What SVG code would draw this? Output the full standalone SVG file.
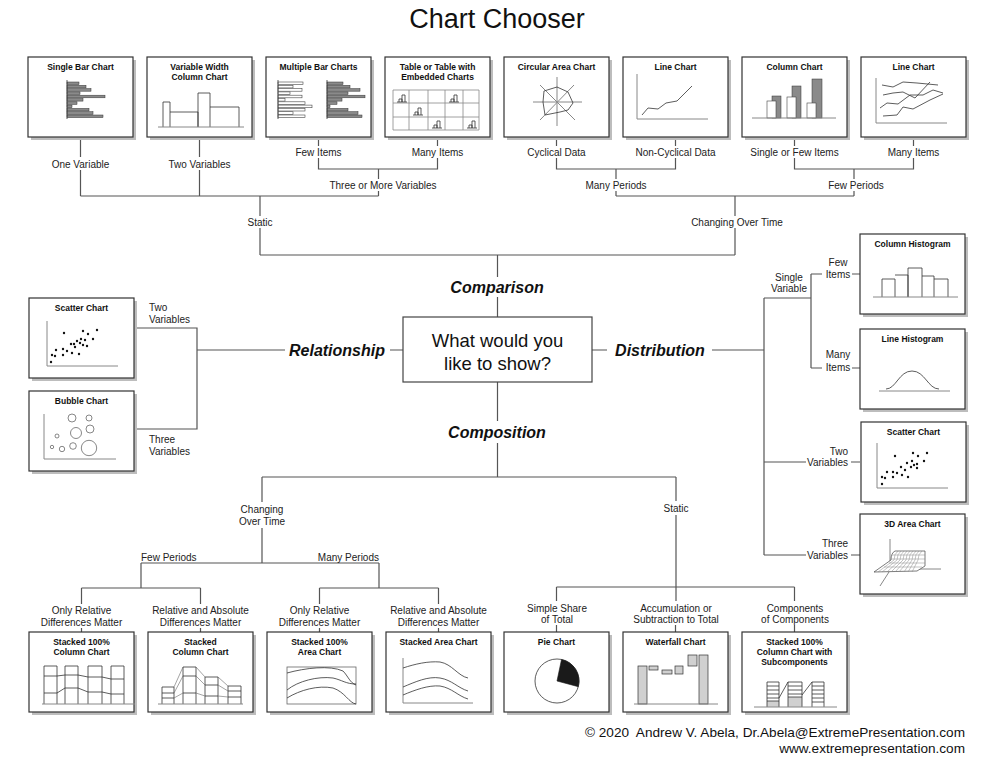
<svg xmlns="http://www.w3.org/2000/svg" width="999" height="762" viewBox="0 0 999 762">
<defs>
<style>
.bg{fill:#fff}
.box{fill:#fff;stroke:#333;stroke-width:1.2}
.sh{fill:#bdbdbd}
.t{font-family:"Liberation Sans",Arial,sans-serif;font-weight:bold;font-size:8.5px;text-anchor:middle;fill:#111}
.lbl{font-family:"Liberation Sans",Arial,sans-serif;font-size:10px;fill:#222;text-anchor:middle}
.lr{text-anchor:end}
.ls{text-anchor:start}
.cat{font-family:"Liberation Sans",Arial,sans-serif;font-weight:bold;font-style:italic;font-size:16px;text-anchor:middle;fill:#111}
.q{font-family:"Liberation Sans",Arial,sans-serif;font-size:18.5px;text-anchor:middle;fill:#111}
.c{stroke:#555;stroke-width:1.2;fill:none}
.ln{stroke:#333;stroke-width:0.8;fill:none}
.ax{stroke:#888;stroke-width:1;fill:none}
.gb{fill:#8a8a8a;stroke:#333;stroke-width:0.5}
.wb{fill:#fff;stroke:#444;stroke-width:0.6}
.lg{fill:#d0d0d0;stroke:#333;stroke-width:0.7}
.dot{fill:#111}
.bub{fill:#fff;stroke:#555;stroke-width:0.7}
.ft{font-family:"Liberation Sans",Arial,sans-serif;font-size:13.6px;text-anchor:end;fill:#111}
</style>
</defs>
<rect class="bg" x="0" y="0" width="999" height="762"/>
<text x="497" y="28" style="font-family:'Liberation Sans',Arial,sans-serif;font-size:27px;text-anchor:middle;fill:#111">Chart Chooser</text>

<!-- connectors -->
<g id="connectors">
<path class="c" d="M80.5 137V157M80.5 170V196M199.5 137V157M199.5 170V196M318.5 137V146M318.5 158V169H437.5V158M437.5 146V137M378.5 169V179M378.5 191V196M80.5 196H378.5M260 196V216M260 228V255"/>
<path class="c" d="M556.5 137V146M556.5 158V169H675.5V158M675.5 146V137M616 169V179M616 191V196M794.5 137V146M794.5 158V169H913.5V158M913.5 146V137M854 169V179M854 191V196M616 196H854M735 196V216M735 228V255"/>
<path class="c" d="M260 255H735M497.5 255V277M497.5 297V317"/>
<path class="c" d="M134 328H197V429H134M197 350H285M390 350H403"/>
<path class="c" d="M592 350H607M712 350H764M764 298V555M764 298H811M811 274V368M811 274H822M852 274H860M811 368H822M852 368H860M764 462H806M851 462H860M764 555H806M851 555H860"/>
<path class="c" d="M497.5 382V421M497.5 443V477M262 477H676M262 477V502M262 528V563M141 563H379M141 563V588M81.5 588H200.5M81.5 588V604M200.5 588V604M81.5 628V632M200.5 628V632M379 563V588M319.5 588H438.5M319.5 588V604M438.5 588V604M319.5 628V632M438.5 628V632"/>
<path class="c" d="M676 477V501M676 515V601M556.5 587H794.5M556.5 587V601M794.5 587V601M556.5 625V632M675.5 625V632M794.5 625V632"/>
</g>

<!-- connector labels -->
<g id="labels">
<text class="lbl" x="80.5" y="167.5">One Variable</text>
<text class="lbl" x="199.5" y="167.5">Two Variables</text>
<text class="lbl" x="318.5" y="155.5">Few Items</text>
<text class="lbl" x="437.5" y="155.5">Many Items</text>
<text class="lbl" x="383" y="188.5">Three or More Variables</text>
<text class="lbl" x="260" y="225.5">Static</text>
<text class="lbl" x="556.5" y="155.5">Cyclical Data</text>
<text class="lbl" x="675.5" y="155.5">Non-Cyclical Data</text>
<text class="lbl" x="794.5" y="155.5">Single or Few Items</text>
<text class="lbl" x="913.5" y="155.5">Many Items</text>
<text class="lbl" x="616" y="188.5">Many Periods</text>
<text class="lbl" x="856" y="188.5">Few Periods</text>
<text class="lbl" x="737" y="225.5">Changing Over Time</text>
<text class="lbl ls" x="149" y="310.5">Two</text>
<text class="lbl ls" x="149" y="322.5">Variables</text>
<text class="lbl ls" x="149" y="442.5">Three</text>
<text class="lbl ls" x="149" y="454.5">Variables</text>
<text class="lbl" x="789" y="280.5">Single</text>
<text class="lbl" x="789" y="291.5">Variable</text>
<text class="lbl" x="838" y="265.5">Few</text>
<text class="lbl" x="838" y="277.5">Items</text>
<text class="lbl" x="838" y="357.5">Many</text>
<text class="lbl" x="838" y="370.5">Items</text>
<text class="lbl lr" x="848" y="454.5">Two</text>
<text class="lbl lr" x="848" y="465.5">Variables</text>
<text class="lbl lr" x="848" y="546.5">Three</text>
<text class="lbl lr" x="848" y="558.5">Variables</text>
<text class="lbl" x="262" y="512.5">Changing</text>
<text class="lbl" x="262" y="524.5">Over Time</text>
<text class="lbl" x="676" y="511.5">Static</text>
<text class="lbl ls" x="141" y="560.5">Few Periods</text>
<text class="lbl lr" x="379" y="560.5">Many Periods</text>
<text class="lbl" x="81.5" y="613.5">Only Relative</text>
<text class="lbl" x="81.5" y="625.5">Differences Matter</text>
<text class="lbl" x="200.5" y="613.5">Relative and Absolute</text>
<text class="lbl" x="200.5" y="625.5">Differences Matter</text>
<text class="lbl" x="319.5" y="613.5">Only Relative</text>
<text class="lbl" x="319.5" y="625.5">Differences Matter</text>
<text class="lbl" x="438.5" y="613.5">Relative and Absolute</text>
<text class="lbl" x="438.5" y="625.5">Differences Matter</text>
<text class="lbl" x="557" y="611.5">Simple Share</text>
<text class="lbl" x="557" y="622.5">of Total</text>
<text class="lbl" x="676" y="611.5">Accumulation or</text>
<text class="lbl" x="676" y="622.5">Subtraction to Total</text>
<text class="lbl" x="795" y="611.5">Components</text>
<text class="lbl" x="795" y="622.5">of Components</text>
</g>

<!-- center -->
<g id="center">
<rect x="403" y="317" width="189" height="65" fill="#fff" stroke="#444" stroke-width="1.2"/>
<text class="q" x="497.5" y="346.5">What would you</text>
<text class="q" x="497.5" y="369.5">like to show?</text>
</g>
<g id="cat-comparison"><text class="cat" x="497" y="292.5">Comparison</text></g>
<g id="cat-relationship"><text class="cat" x="337" y="355.5">Relationship</text></g>
<g id="cat-distribution"><text class="cat" x="660" y="355.5">Distribution</text></g>
<g id="cat-composition"><text class="cat" x="497" y="437.5">Composition</text></g>

<!-- top row -->
<g id="single-bar">
<rect class="sh" x="31" y="60" width="105" height="80"/><rect class="box" x="28" y="57" width="105" height="80"/>
<text class="t" x="80.5" y="69.5">Single Bar Chart</text>
<rect class="gb" x="67" y="82" width="12" height="2.6"/><rect class="gb" x="67" y="85.3" width="19" height="2.6"/><rect class="gb" x="67" y="88.6" width="24" height="2.6"/><rect class="gb" x="67" y="91.9" width="13" height="2.6"/><rect class="gb" x="67" y="95.2" width="38" height="2.6"/><rect class="gb" x="67" y="98.5" width="16" height="2.6"/><rect class="gb" x="67" y="101.8" width="10" height="2.6"/><rect class="gb" x="67" y="105.1" width="5" height="2.6"/><rect class="gb" x="67" y="108.4" width="22" height="2.6"/><rect class="gb" x="67" y="111.7" width="26" height="2.6"/><rect class="gb" x="67" y="115" width="36" height="2.6"/>
<path class="ln" d="M67 80V119"/>
</g>
<g id="variable-width">
<rect class="sh" x="150" y="60" width="105" height="80"/><rect class="box" x="147" y="57" width="105" height="80"/>
<text class="t" x="199.5" y="69.5">Variable Width</text><text class="t" x="199.5" y="79.5">Column Chart</text>
<path class="ln" d="M163 127V102H170V127M170 112H198V127M198 127V93H210V127M210 107H239V127"/>
<path class="ax" d="M158 127H244"/>
</g>
<g id="multiple-bar">
<rect class="sh" x="269" y="60" width="105" height="80"/><rect class="box" x="266" y="57" width="105" height="80"/>
<text class="t" x="318.5" y="69.5">Multiple Bar Charts</text>
<rect class="wb" x="278" y="82" width="25" height="2.6"/><rect class="wb" x="278" y="85.3" width="15" height="2.6"/><rect class="wb" x="278" y="88.6" width="24" height="2.6"/><rect class="wb" x="278" y="91.9" width="12" height="2.6"/><rect class="wb" x="278" y="95.2" width="24" height="2.6"/><rect class="wb" x="278" y="98.5" width="7" height="2.6"/><rect class="wb" x="278" y="101.8" width="27" height="2.6"/><rect class="wb" x="278" y="105.1" width="34" height="2.6"/><rect class="wb" x="278" y="108.4" width="27" height="2.6"/><rect class="wb" x="278" y="111.7" width="15" height="2.6"/><rect class="wb" x="278" y="115" width="27" height="2.6"/>
<path class="ln" d="M278 80V119"/>
<rect class="gb" x="327" y="82" width="16" height="2.6"/><rect class="gb" x="327" y="85.3" width="23" height="2.6"/><rect class="gb" x="327" y="88.6" width="33" height="2.6"/><rect class="gb" x="327" y="91.9" width="21" height="2.6"/><rect class="gb" x="327" y="95.2" width="38" height="2.6"/><rect class="gb" x="327" y="98.5" width="15" height="2.6"/><rect class="gb" x="327" y="101.8" width="10" height="2.6"/><rect class="gb" x="327" y="105.1" width="3" height="2.6"/><rect class="gb" x="327" y="108.4" width="21" height="2.6"/><rect class="gb" x="327" y="111.7" width="31" height="2.6"/><rect class="gb" x="327" y="115" width="35" height="2.6"/>
<path class="ln" d="M327 80V119"/>
</g>
<g id="table">
<rect class="sh" x="388" y="60" width="105" height="80"/><rect class="box" x="385" y="57" width="105" height="80"/>
<text class="t" x="437.5" y="69.5">Table or Table with</text><text class="t" x="437.5" y="79.5">Embedded Charts</text>
<path d="M393 90H479V130H393ZM409 90V130M428 90V130M445 90V130M463 90V130M393 103H479M393 117H479" fill="none" stroke="#888" stroke-width="0.8"/>
<path class="ln" d="M397 102H407M399 102V99H402V102M402 102V95H405V102 M449 102H459M451 102V99H454V102M454 102V95H457V102 M413 115H423M415 115V112H418V115M418 115V108H421V115 M432 128H442M434 128V125H437V128M437 128V121H440V128 M467 128H477M469 128V125H472V128M472 128V121H475V128"/>
</g>
<g id="circular-area">
<rect class="sh" x="507" y="60" width="105" height="80"/><rect class="box" x="504" y="57" width="105" height="80"/>
<text class="t" x="556.5" y="69.5">Circular Area Chart</text>
<path class="ax" d="M533 102H582M557 77V126M540 85L575 120M574 85L540 120"/>
<path class="ln" d="M544 91L557 87L568 92L573 103L568 110L560 112L545 115L543 102Z"/>
</g>
<g id="line-chart-1">
<rect class="sh" x="626" y="60" width="105" height="80"/><rect class="box" x="623" y="57" width="105" height="80"/>
<text class="t" x="675.5" y="69.5">Line Chart</text>
<path class="ax" d="M637 74V119H708"/>
<path class="ln" d="M642 115L648 108L658 109L666 103L677 101L692 86"/>
</g>
<g id="column-chart">
<rect class="sh" x="745" y="60" width="105" height="80"/><rect class="box" x="742" y="57" width="105" height="80"/>
<text class="t" x="794.5" y="69.5">Column Chart</text>
<rect class="gb" x="772" y="96" width="9" height="22"/><rect class="wb" x="767" y="101" width="9" height="17"/>
<rect class="gb" x="792" y="86" width="9" height="32"/><rect class="wb" x="787" y="97" width="9" height="21"/>
<rect class="gb" x="812" y="79" width="10" height="39"/><rect class="wb" x="807" y="103" width="9" height="15"/>
<path class="ax" d="M752 118H836"/>
</g>
<g id="line-chart-2">
<rect class="sh" x="864" y="60" width="105" height="80"/><rect class="box" x="861" y="57" width="105" height="80"/>
<text class="t" x="913.5" y="69.5">Line Chart</text>
<path class="ax" d="M876 78V123H947"/>
<path class="ln" d="M882 85L893 87L903 82L917 83L938 85M883 95L893 93L903 92L915 98L930 82M880 108L887 103L898 104L910 95L923 95L933 90L943 93M883 116L897 115L903 107L913 109L930 100L943 94"/>
</g>

<!-- left -->
<g id="scatter-left">
<rect class="sh" x="32" y="301" width="105" height="80"/><rect class="box" x="29" y="298" width="105" height="80"/>
<text class="t" x="81.5" y="311">Scatter Chart</text>
<path class="ax" d="M47 321V366H118"/>
<g class="dot"><circle cx="64" cy="333" r="1.2"/><circle cx="83" cy="331" r="1.2"/><circle cx="88" cy="334" r="1.2"/><circle cx="97" cy="330" r="1.2"/><circle cx="77" cy="341" r="1.2"/><circle cx="81" cy="339" r="1.2"/><circle cx="85" cy="340" r="1.2"/><circle cx="93" cy="339" r="1.2"/><circle cx="71" cy="344" r="1.2"/><circle cx="74" cy="344" r="1.2"/><circle cx="80" cy="343" r="1.2"/><circle cx="87" cy="346" r="1.2"/><circle cx="75" cy="347" r="1.2"/><circle cx="83" cy="345" r="1.2"/><circle cx="63" cy="349" r="1.2"/><circle cx="67" cy="351" r="1.2"/><circle cx="56" cy="350" r="1.2"/><circle cx="52" cy="355" r="1.2"/><circle cx="55" cy="356" r="1.2"/><circle cx="63" cy="355" r="1.2"/><circle cx="72" cy="353" r="1.2"/><circle cx="79" cy="354" r="1.2"/><circle cx="51" cy="362" r="1.2"/></g>
</g>
<g id="bubble">
<rect class="sh" x="32" y="394" width="105" height="80"/><rect class="box" x="29" y="391" width="105" height="80"/>
<text class="t" x="81.5" y="404">Bubble Chart</text>
<path class="ax" d="M44 414V459H116"/>
<circle class="bub" cx="72" cy="418" r="4"/><circle class="bub" cx="89" cy="418" r="3"/><circle class="bub" cx="76" cy="433" r="5.5"/><circle class="bub" cx="90" cy="429" r="4"/><circle class="bub" cx="57" cy="436" r="2"/><circle class="bub" cx="52" cy="447" r="1.7"/><circle class="bub" cx="62" cy="449" r="2.7"/><circle class="bub" cx="73" cy="446" r="3.3"/><circle class="bub" cx="89" cy="448" r="7.7"/>
</g>

<!-- right -->
<g id="column-histogram">
<rect class="sh" x="863" y="237" width="105" height="80"/><rect class="box" x="860" y="234" width="105" height="80"/>
<text class="t" x="912.5" y="247">Column Histogram</text>
<path class="ln" d="M882 297V279H895V297M895 275H908V297M908 297V268H922V297M922 276H934V297M934 279H948V297"/>
<path class="ax" d="M873 297H958"/>
</g>
<g id="line-histogram">
<rect class="sh" x="863" y="332" width="105" height="80"/><rect class="box" x="860" y="329" width="105" height="80"/>
<text class="t" x="912.5" y="342">Line Histogram</text>
<path class="ax" d="M879 391H950"/>
<path class="ln" d="M886 389C896 389 899 371 912 371C925 371 928 389 939 389"/>
</g>
<g id="scatter-right">
<rect class="sh" x="864" y="425" width="105" height="80"/><rect class="box" x="861" y="422" width="105" height="80"/>
<text class="t" x="913.5" y="435">Scatter Chart</text>
<path class="ax" d="M877 443V488H948"/>
<g class="dot"><circle cx="895" cy="456" r="1.2"/><circle cx="913" cy="453" r="1.2"/><circle cx="918" cy="456" r="1.2"/><circle cx="927" cy="453" r="1.2"/><circle cx="912" cy="461" r="1.2"/><circle cx="907" cy="463" r="1.2"/><circle cx="917" cy="464" r="1.2"/><circle cx="924" cy="461" r="1.2"/><circle cx="901" cy="467" r="1.2"/><circle cx="905" cy="470" r="1.2"/><circle cx="911" cy="467" r="1.2"/><circle cx="914" cy="465" r="1.2"/><circle cx="917" cy="468" r="1.2"/><circle cx="893" cy="472" r="1.2"/><circle cx="897" cy="473" r="1.2"/><circle cx="887" cy="472" r="1.2"/><circle cx="882" cy="477" r="1.2"/><circle cx="885" cy="478" r="1.2"/><circle cx="893" cy="477" r="1.2"/><circle cx="902" cy="475" r="1.2"/><circle cx="908" cy="477" r="1.2"/><circle cx="882" cy="484" r="1.2"/></g>
</g>
<g id="area-3d">
<rect class="sh" x="863" y="517" width="105" height="80"/><rect class="box" x="860" y="514" width="105" height="80"/>
<text class="t" x="912.5" y="527">3D Area Chart</text>
<path class="ax" d="M890 539V567M918 569H941M889 572L880 586"/>
<path d="M874 572L917 571L925 566V551H895Q891 553 891 560Z" fill="#fff" stroke="#444" stroke-width="0.7"/>
<path d="M898 551Q894 554 894 560L878 572M901 551Q897 554 897 560L882 572M904 551Q900 554 900 560L887 572M907 551Q903 554 903 560L891 572M910 551Q906 554 906 560L895 572M913 551Q909 554 909 560L899 572M916 551Q912 554 912 560L904 572M919 551Q915 554 915 560L908 572M922 551Q918 554 918 560L912 572M892 555H925M891 559H925M889 563H925M884 567H922" fill="none" stroke="#888" stroke-width="0.5"/>
</g>

<!-- bottom row -->
<g id="stacked-100-column">
<rect class="sh" x="32" y="635" width="105" height="80"/><rect class="box" x="29" y="632" width="105" height="80"/>
<text class="t" x="81.5" y="645">Stacked 100%</text><text class="t" x="81.5" y="655">Column Chart</text>
<path class="ln" d="M44 704V666H57V704M65 704V666H78V704M88 704V666H102V704M111 704V666H124V704M44 676H57L65 675H78L88 677H102L111 679H124M44 693H57L65 688H78L88 692H102L111 694H124"/>
<path class="ax" d="M42 704H135"/>
</g>
<g id="stacked-column">
<rect class="sh" x="151" y="635" width="105" height="80"/><rect class="box" x="148" y="632" width="105" height="80"/>
<text class="t" x="200.5" y="645">Stacked</text><text class="t" x="200.5" y="655">Column Chart</text>
<path class="ln" d="M162 704V687H174V704M162 693H174M162 698H174M183 704V667H196V704M183 676H196M183 693H196M205 704V677H218V704M205 685H218M205 696H218M228 704V686H241V704M228 691H241M228 697H241"/>
<path d="M174 687L183 667M174 693L183 676M174 698L183 693M196 667L205 677M196 676L205 685M196 693L205 696M218 677L228 686M218 685L228 691M218 696L228 697" fill="none" stroke="#666" stroke-width="0.6"/>
<path class="ax" d="M158 704H243"/>
</g>
<g id="stacked-100-area">
<rect class="sh" x="270" y="635" width="105" height="80"/><rect class="box" x="267" y="632" width="105" height="80"/>
<text class="t" x="319.5" y="645">Stacked 100%</text><text class="t" x="319.5" y="655">Area Chart</text>
<rect x="287" y="667" width="69" height="37" fill="none" stroke="#666" stroke-width="0.8"/>
<path class="ln" d="M287 673C305 668 330 665 343 671C348 676 350 683 356 685M287 690C298 681 318 676 333 678C342 680 346 684 356 684M287 698C300 690 318 685 333 688C345 692 349 703 356 704"/>
</g>
<g id="stacked-area">
<rect class="sh" x="389" y="635" width="105" height="80"/><rect class="box" x="386" y="632" width="105" height="80"/>
<text class="t" x="438.5" y="645">Stacked Area Chart</text>
<path class="ax" d="M403 658V703H473"/>
<path class="ln" d="M403 668C415 664 428 661 440 662C452 664 458 676 468 678M403 687C415 682 428 676 440 678C452 680 458 688 468 691M403 695C415 690 428 685 440 686C452 688 458 696 468 699"/>
</g>
<g id="pie">
<rect class="sh" x="507" y="635" width="105" height="80"/><rect class="box" x="504" y="632" width="105" height="80"/>
<text class="t" x="556.5" y="645">Pie Chart</text>
<circle cx="557" cy="681" r="22" fill="#fff" stroke="#333" stroke-width="0.8"/>
<path d="M557 681L561.5 659.5A22 22 0 0 1 578.3 686.7Z" fill="#1a1a1a" stroke="#1a1a1a" stroke-width="0.6"/>
</g>
<g id="waterfall">
<rect class="sh" x="626" y="635" width="105" height="80"/><rect class="box" x="623" y="632" width="105" height="80"/>
<text class="t" x="675.5" y="645">Waterfall Chart</text>
<rect class="lg" x="638" y="666" width="9" height="38"/><rect class="lg" x="649" y="666" width="9" height="4"/><rect class="lg" x="662" y="670" width="10" height="4"/><rect class="lg" x="675" y="666" width="8" height="8"/><rect class="lg" x="688" y="655" width="9" height="11"/><rect class="lg" x="699" y="655" width="9" height="49"/>
<path class="ax" d="M634 704H718"/>
</g>
<g id="stacked-sub">
<rect class="sh" x="745" y="635" width="105" height="80"/><rect class="box" x="742" y="632" width="105" height="80"/>
<text class="t" x="794.5" y="645">Stacked 100%</text><text class="t" x="794.5" y="655">Column Chart with</text><text class="t" x="794.5" y="665">Subcomponents</text>
<rect x="767" y="701" width="12" height="6" fill="#d0d0d0"/><rect x="788" y="697" width="14" height="10" fill="#d0d0d0"/>
<path class="ln" d="M767 707V682H779V707M767 686H779M767 690H779M767 694H779M767 698H779M767 701H779M788 707V682H802V707M788 686H802M788 690H802M788 694H802M788 697H802M812 707V682H824V707M812 686H824M812 690H824M812 694H824M812 698H824M812 702H824M779 698L788 682M802 695L812 682"/>
<path class="ax" d="M754 707H837"/>
</g>

<g id="footer">
<text class="ft" x="965" y="737" style="white-space:pre">© 2020  Andrew V. Abela, Dr.Abela@ExtremePresentation.com</text>
<text class="ft" x="965" y="753">www.extremepresentation.com</text>
</g>
</svg>
